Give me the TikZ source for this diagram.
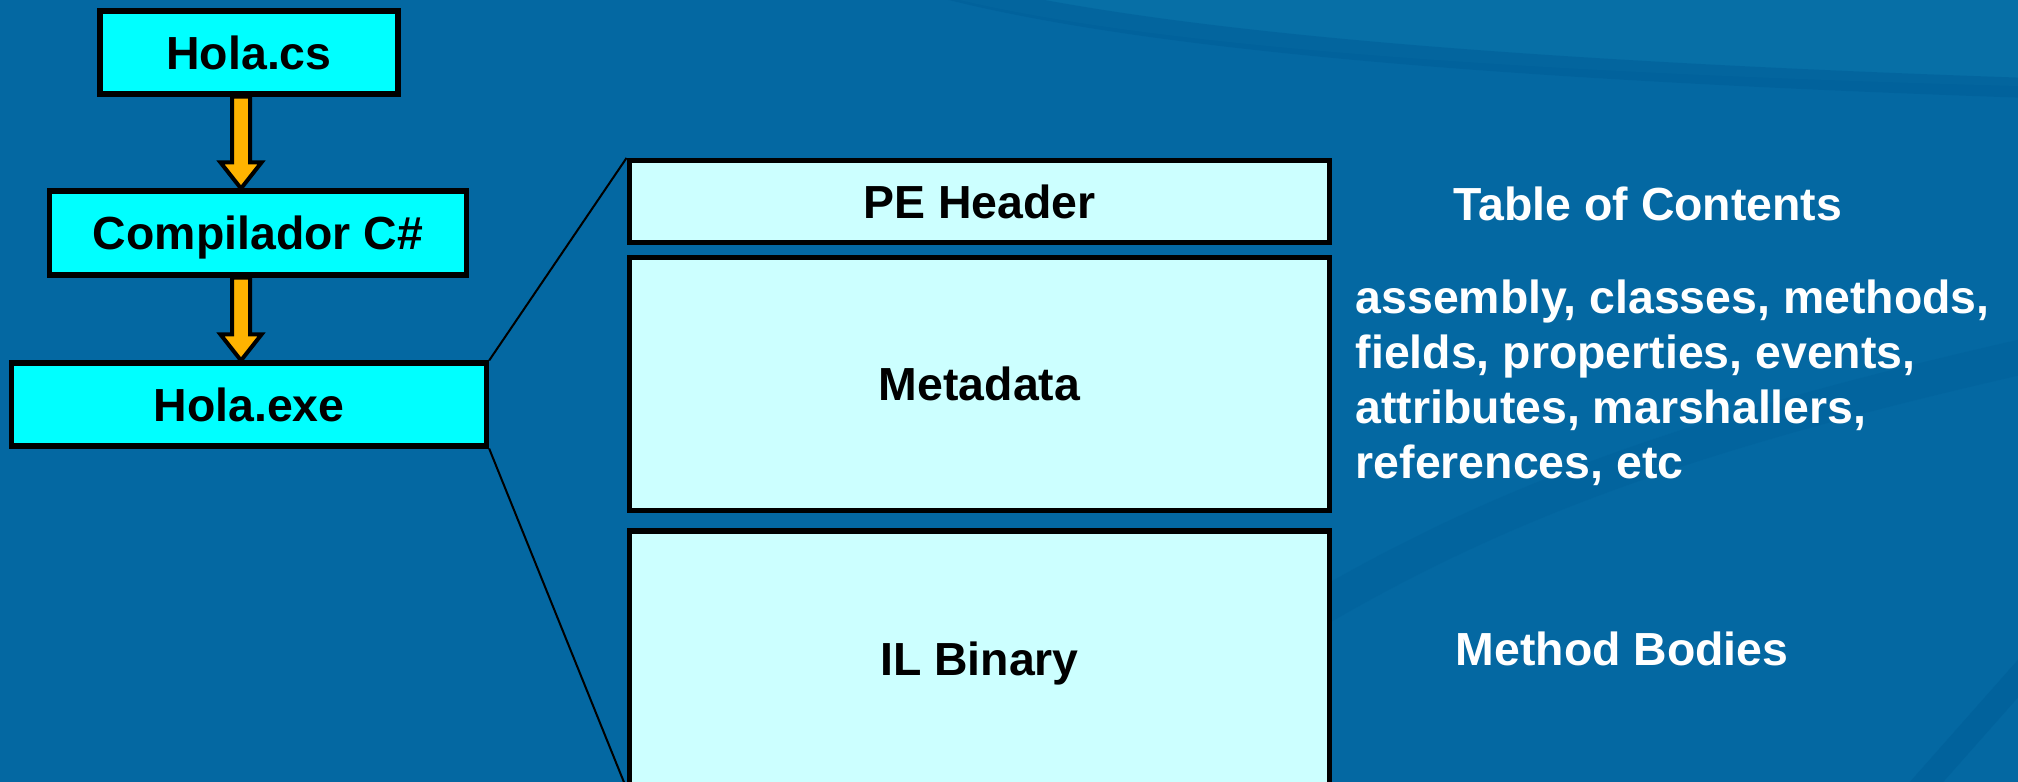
\documentclass[tikz,border=0pt]{standalone}
\usepackage{fontspec}
\setmainfont{Liberation Sans}
\usetikzlibrary{calc}
\definecolor{FondoAzul}{HTML}{0468A2}
\definecolor{OndaOscura}{HTML}{005D97}
\definecolor{OndaClara}{HTML}{0A74AA}
\definecolor{CajaCian}{HTML}{00FFFF}
\definecolor{CajaPalida}{HTML}{CCFFFF}
\definecolor{FlechaNaranja}{HTML}{FFB300}

\begin{document}
\begin{tikzpicture}[
    x=0.01cm, y=-0.01cm,
    paso/.style={rectangle, draw=black, line width=0.055cm, fill=CajaCian, inner sep=0pt,
                 text height=0.333cm, text depth=0pt,
                 font=\fontsize{13.2}{15.6}\selectfont\bfseries},
    seccion/.style={paso, fill=CajaPalida, minimum width=7cm},
    nota/.style={anchor=base west, inner sep=0pt, text=white,
                 font=\fontsize{13.2}{15.6}\selectfont\bfseries},
    guia/.style={black, line width=0.02cm},
    flecha/.style={draw=black, line width=0.04cm, fill=FlechaNaranja, line join=miter,
      to path={($(\tikztostart)+(-9,0)$) -- ($(\tikztotarget)+(-9,-26)$)
        -- ($(\tikztotarget)+(-20.5,-26)$) -- (\tikztotarget)
        -- ($(\tikztotarget)+(20.5,-26)$) -- ($(\tikztotarget)+(9,-26)$)
        -- ($(\tikztostart)+(9,0)$) -- cycle}},
    onda/.style={line cap=round, line width=0.2cm, OndaOscura, opacity=0.5}
]
  \useasboundingbox (0,0) rectangle (2018,782);
  % Background and waves
  \fill[FondoAzul] (0,0) rectangle (2018,782);
  \fill[OndaClara, opacity=0.6] (960,0) .. controls (1150,45) and (1500,72) .. (2018,86) -- (2018,0) -- cycle;
  \draw[onda] (950,-10) .. controls (1150,40) and (1500,70) .. (2030,88);
  \draw[onda, line width=0.35cm, opacity=0.3] (1300,620) .. controls (1500,500) and (1700,430) .. (2030,355);
  \draw[onda, line width=0.25cm] (1915,795) -- (2030,665);

  % Compilation chain
  \node[paso, minimum width=2.98cm, minimum height=0.825cm] (holacs) at (249,52.5) {Hola.cs};
  \node[paso, minimum width=4.165cm, minimum height=0.835cm] (compilador) at (258,233) {Compilador C\#};
  \node[paso, minimum width=4.745cm, minimum height=0.825cm] (holaexe) at (249,404.5) {Hola.exe};

  % Assembly sections
  \node[seccion, minimum height=0.815cm] (pe) at (979.5,201.5) {PE Header};
  \node[seccion, minimum height=2.525cm] (meta) at (979.5,384) {Metadata};
  \node[seccion, minimum height=2.545cm] (il) at (979.5,658.5) {IL Binary};

  % Zoom lines
  \draw[guia] (holaexe.north east) -- (pe.north west);
  \draw[guia] (holaexe.south east) -- (il.south west);

  % Block arrows
  \coordinate (eje) at (241,0);
  \foreach \de/\a [count=\i] in {holacs/compilador, compilador/holaexe}{
    \coordinate (ini\i) at (\de.south -| eje);
    \coordinate (fin\i) at (\a.north -| eje);
    \draw[flecha] (ini\i) to (fin\i);
  }

  % Descriptions
  \node[nota] (indice) at (1453,221) {Table of Contents};
  \foreach \linea [count=\i] in {{assembly, classes, methods,}, {fields, properties, events,},
                                 {attributes, marshallers,}, {references, etc}}{
    \node[nota] (detalle\i) at (1355,258+\i*55) {\linea};
  }
  \node[nota] (cuerpos) at (1455,665) {Method Bodies};
\end{tikzpicture}
\end{document}
